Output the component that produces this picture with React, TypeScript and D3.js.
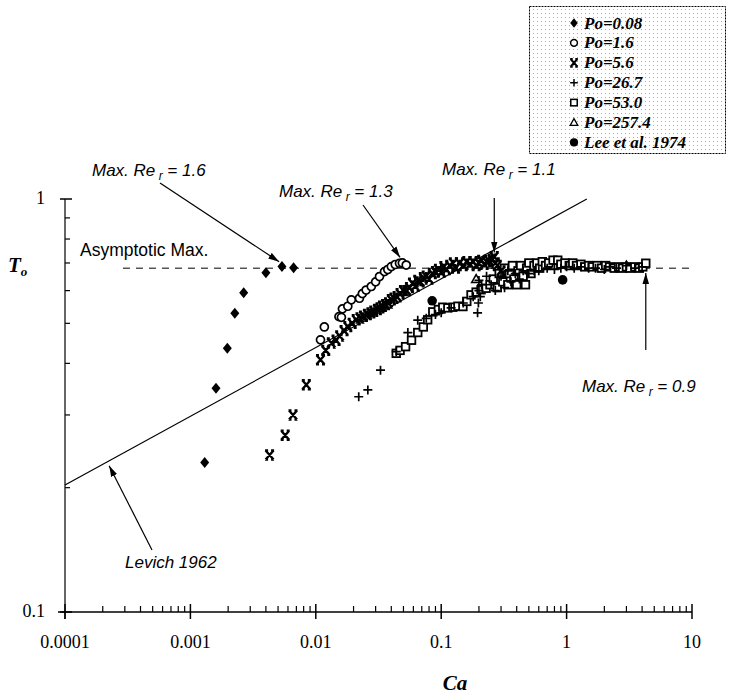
import React, { useEffect, useRef } from "react";
import * as d3 from "d3";

// axis ticks
const xTicks = [0.0001, 0.001, 0.01, 0.1, 1, 10];
const xTickLabels = ["0.0001", "0.001", "0.01", "0.1", "1", "10"];
const yTicks = [0.1, 1];
const yTickLabels = ["0.1", "1"];

// Po = 0.08
const caPo008 = [0.0013, 0.0016, 0.00197, 0.00226, 0.00266, 0.004, 0.00537, 0.00665];
const tPo008 = [0.23, 0.348, 0.435, 0.529, 0.593, 0.663, 0.686, 0.682];

// Po = 1.6
const caPo16 = [0.0109, 0.0117, 0.0153, 0.016, 0.0163, 0.018, 0.0192, 0.0223, 0.0235, 0.0252, 0.0277, 0.03, 0.0322, 0.0353, 0.0375, 0.04, 0.043, 0.0465, 0.049, 0.0526];
const tPo16 = [0.456, 0.49, 0.519, 0.517, 0.542, 0.55, 0.57, 0.575, 0.59, 0.602, 0.614, 0.63, 0.649, 0.667, 0.675, 0.686, 0.694, 0.699, 0.7, 0.692];

// Po = 5.6
const caPo56 = [0.00428, 0.0057, 0.00658, 0.0084, 0.0109, 0.012, 0.0133, 0.0145, 0.0155, 0.0168, 0.018, 0.0195, 0.021, 0.0225, 0.024, 0.0258, 0.0275, 0.029, 0.031, 0.0325, 0.034, 0.036, 0.038, 0.04, 0.042, 0.0445, 0.047, 0.05, 0.053, 0.0558, 0.059, 0.062, 0.065, 0.068, 0.072, 0.0759, 0.08, 0.085, 0.09, 0.095, 0.1, 0.105, 0.11, 0.117, 0.125, 0.13, 0.14, 0.15, 0.16, 0.17, 0.18, 0.19, 0.2, 0.21, 0.22, 0.23, 0.24, 0.255, 0.265, 0.27, 0.28, 0.3];
const tPo56 = [0.24, 0.268, 0.3, 0.355, 0.408, 0.43, 0.448, 0.455, 0.466, 0.48, 0.491, 0.5, 0.51, 0.515, 0.52, 0.525, 0.53, 0.535, 0.54, 0.545, 0.55, 0.555, 0.56, 0.57, 0.575, 0.58, 0.59, 0.6, 0.6, 0.61, 0.625, 0.615, 0.635, 0.63, 0.645, 0.65, 0.64, 0.66, 0.667, 0.675, 0.665, 0.686, 0.675, 0.69, 0.7, 0.68, 0.7, 0.69, 0.705, 0.695, 0.705, 0.69, 0.7, 0.71, 0.695, 0.705, 0.71, 0.715, 0.725, 0.7, 0.69, 0.67];

// Po = 26.7
const caPo267 = [0.022, 0.026, 0.0328, 0.0438, 0.0542, 0.065, 0.076, 0.09, 0.1, 0.12, 0.15, 0.18, 0.195, 0.198, 0.2, 0.2, 0.205, 0.21, 0.23, 0.25, 0.27, 0.3, 0.32, 0.34, 0.36, 0.39, 0.42, 0.45, 0.5, 0.55, 0.6, 0.7, 0.8, 0.9, 1.0, 1.15, 1.3, 1.5, 1.7, 2.0, 2.2, 2.5, 3.0, 3.5, 4.0];
const tPo267 = [0.332, 0.345, 0.385, 0.427, 0.475, 0.509, 0.514, 0.525, 0.53, 0.545, 0.56, 0.58, 0.53, 0.56, 0.6, 0.635, 0.58, 0.62, 0.65, 0.62, 0.6, 0.65, 0.61, 0.67, 0.63, 0.66, 0.64, 0.67, 0.66, 0.67, 0.67, 0.68, 0.675, 0.68, 0.685, 0.68, 0.685, 0.68, 0.68, 0.675, 0.685, 0.68, 0.69, 0.68, 0.685];

// Po = 53.0
const caPo530 = [0.0438, 0.047, 0.052, 0.058, 0.065, 0.072, 0.078, 0.0857, 0.095, 0.103, 0.113, 0.124, 0.136, 0.149, 0.16, 0.173, 0.19, 0.208, 0.228, 0.245, 0.26, 0.28, 0.29, 0.31, 0.32, 0.34, 0.35, 0.37, 0.38, 0.4, 0.41, 0.43, 0.45, 0.47, 0.48, 0.5, 0.52, 0.55, 0.58, 0.61, 0.64, 0.68, 0.72, 0.78, 0.85, 0.9, 0.97, 1.05, 1.12, 1.2, 1.3, 1.4, 1.5, 1.6, 1.75, 1.9, 2.05, 2.2, 2.4, 2.6, 2.8, 3.0, 3.2, 3.5, 3.8, 4.05, 4.28];
const tPo530 = [0.423, 0.43, 0.439, 0.455, 0.475, 0.49, 0.51, 0.533, 0.54, 0.547, 0.545, 0.547, 0.55, 0.549, 0.565, 0.586, 0.595, 0.603, 0.608, 0.62, 0.64, 0.61, 0.66, 0.63, 0.68, 0.62, 0.66, 0.69, 0.64, 0.62, 0.67, 0.69, 0.65, 0.62, 0.68, 0.7, 0.66, 0.69, 0.7, 0.68, 0.705, 0.69, 0.7, 0.711, 0.711, 0.695, 0.7, 0.69, 0.7, 0.69, 0.695, 0.685, 0.69, 0.685, 0.69, 0.68, 0.69, 0.685, 0.68, 0.685, 0.68, 0.685, 0.68, 0.685, 0.68, 0.685, 0.699];

// Po = 257.4
const caPo2574 = [0.19, 0.3, 0.5, 0.8, 1.2, 2.0, 3.0];
const tPo2574 = [0.64, 0.66, 0.68, 0.69, 0.69, 0.685, 0.69];

// Lee et al. 1974
const caLee = [0.0847, 0.93];
const tLee = [0.567, 0.637];

// Levich 1962 line end points, and the asymptotic maximum
const levichCa = [0.0001, 1.45];
const levichT = [0.203, 1.0];
const asymCa = [0.00029, 10];
const asymT = 0.68;

const seriesNames = ["Po=0.08", "Po=1.6", "Po=5.6", "Po=26.7", "Po=53.0", "Po=257.4", "Lee et al. 1974"];

const App = () => {
  const ref = useRef(null);

  useEffect(() => {
    document.body.style.margin = "0";
    const svg = d3.select(ref.current);
    svg.selectAll("*").remove();

    const x = d3.scaleLog().domain([0.0001, 10]).range([65, 692]);
    const y = d3.scaleLog().domain([0.1, 1]).range([612, 199]);

    const defs = svg.append("defs");
    defs.append("marker")
      .attr("id", "arrow")
      .attr("viewBox", "0 0 10 6")
      .attr("refX", 10)
      .attr("refY", 3)
      .attr("markerUnits", "userSpaceOnUse")
      .attr("markerWidth", 11)
      .attr("markerHeight", 7)
      .attr("orient", "auto")
      .append("path")
      .attr("d", "M0,0L10,3L0,6Z")
      .attr("fill", "#000");
    const pat = defs.append("pattern")
      .attr("id", "dots")
      .attr("width", 4)
      .attr("height", 4)
      .attr("patternUnits", "userSpaceOnUse");
    pat.append("rect").attr("width", 4).attr("height", 4).attr("fill", "#fff");
    pat.append("rect").attr("x", 1).attr("y", 1).attr("width", 1).attr("height", 1).attr("fill", "#aaa");

    const g = svg.append("g");

    // axes
    g.append("line").attr("x1", 58).attr("x2", x(10)).attr("y1", y(0.1)).attr("y2", y(0.1))
      .attr("stroke", "#000").attr("stroke-width", 1.5);
    g.append("line").attr("x1", x(0.0001)).attr("x2", x(0.0001)).attr("y1", y(1)).attr("y2", y(0.1) + 7)
      .attr("stroke", "#333").attr("stroke-width", 1.5);

    const xMinor = x.ticks().filter((v) => !xTicks.some((t) => Math.abs(t - v) / t < 1e-6));
    g.selectAll("line.xminor").data(xMinor).join("line")
      .attr("x1", (d) => x(d)).attr("x2", (d) => x(d))
      .attr("y1", y(0.1)).attr("y2", y(0.1) - 6)
      .attr("stroke", "#000").attr("stroke-width", 1.2);
    g.selectAll("line.xmajor").data(xTicks).join("line")
      .attr("x1", (d) => x(d)).attr("x2", (d) => x(d))
      .attr("y1", y(0.1) - 8).attr("y2", y(0.1) + 7)
      .attr("stroke", "#000").attr("stroke-width", 1.5);
    g.selectAll("text.xlab").data(xTicks).join("text")
      .attr("x", (d) => x(d)).attr("y", 648)
      .attr("text-anchor", "middle")
      .attr("font-family", "Liberation Serif, serif")
      .attr("font-size", 18)
      .text((d, i) => xTickLabels[i]);

    const yMinor = y.ticks().filter((v) => !yTicks.some((t) => Math.abs(t - v) / t < 1e-6));
    g.selectAll("line.yminor").data(yMinor).join("line")
      .attr("x1", x(0.0001)).attr("x2", x(0.0001) + 5)
      .attr("y1", (d) => y(d)).attr("y2", (d) => y(d))
      .attr("stroke", "#000").attr("stroke-width", 1.2);
    g.selectAll("line.ymajor").data(yTicks).join("line")
      .attr("x1", x(0.0001) - 5).attr("x2", x(0.0001) + 7)
      .attr("y1", (d) => y(d)).attr("y2", (d) => y(d))
      .attr("stroke", "#000").attr("stroke-width", 1.5);
    g.selectAll("text.ylab").data(yTicks).join("text")
      .attr("x", 45).attr("y", (d) => y(d) + 5)
      .attr("text-anchor", "end")
      .attr("font-family", "Liberation Serif, serif")
      .attr("font-size", 18)
      .text((d, i) => yTickLabels[i]);

    // axis titles
    g.append("text").attr("x", 455).attr("y", 690).attr("text-anchor", "middle")
      .attr("font-family", "Liberation Serif, serif").attr("font-size", 21)
      .attr("font-style", "italic").attr("font-weight", "bold").text("Ca");
    const yt = g.append("text").attr("x", 8).attr("y", 272)
      .attr("font-family", "Liberation Serif, serif").attr("font-size", 21)
      .attr("font-style", "italic").attr("font-weight", "bold");
    yt.append("tspan").text("T");
    yt.append("tspan").attr("font-size", 13).attr("dy", 4).text("o");

    // Levich line and asymptote
    const line = d3.line().x((d) => x(d[0])).y((d) => y(d[1]));
    g.append("path")
      .attr("d", line(levichCa.map((c, i) => [c, levichT[i]])))
      .attr("fill", "none").attr("stroke", "#000").attr("stroke-width", 1.2);
    g.append("line")
      .attr("x1", x(asymCa[0])).attr("x2", x(asymCa[1]))
      .attr("y1", y(asymT)).attr("y2", y(asymT))
      .attr("stroke", "#000").attr("stroke-width", 1).attr("stroke-dasharray", "7,6");

    // markers
    const sym = {
      diamond: (s) => s.append("path").attr("d", "M0,-5.5L4.5,0L0,5.5L-4.5,0Z").attr("fill", "#000"),
      circle: (s) => s.append("circle").attr("r", 4).attr("fill", "#fff").attr("stroke", "#000").attr("stroke-width", 1.7),
      cross: (s) => s.append("path").attr("d", "M-4,-4.5L4,4.5M4,-4.5L-4,4.5M-4.5,-4.5H-1.5M1.5,-4.5H4.5M-4.5,4.5H-1.5M1.5,4.5H4.5")
        .attr("fill", "none").attr("stroke", "#000").attr("stroke-width", 2.4),
      plus: (s) => s.append("path").attr("d", "M-4.5,0H4.5M0,-4.5V4.5").attr("fill", "none").attr("stroke", "#000").attr("stroke-width", 1.7),
      square: (s) => s.append("rect").attr("x", -3.8).attr("y", -3.8).attr("width", 7.6).attr("height", 7.6)
        .attr("fill", "#fff").attr("stroke", "#000").attr("stroke-width", 1.8),
      triangle: (s) => s.append("path").attr("d", "M0,-4.5L4.5,3.5L-4.5,3.5Z").attr("fill", "#fff").attr("stroke", "#000").attr("stroke-width", 1.5),
      dot: (s) => s.append("circle").attr("r", 4.8).attr("fill", "#000"),
    };
    const series = [
      { ca: caPo008, t: tPo008, m: "diamond" },
      { ca: caPo16, t: tPo16, m: "circle" },
      { ca: caPo56, t: tPo56, m: "cross" },
      { ca: caPo267, t: tPo267, m: "plus" },
      { ca: caPo530, t: tPo530, m: "square" },
      { ca: caPo2574, t: tPo2574, m: "triangle" },
      { ca: caLee, t: tLee, m: "dot" },
    ];
    const drawOrder = [0, 5, 4, 3, 1, 2, 6];
    drawOrder.forEach((si) => {
      const s = series[si];
      s.ca.forEach((c, i) => {
        const pt = g.append("g").attr("transform", `translate(${x(c)},${y(s.t[i])})`);
        sym[s.m](pt);
      });
    });

    // annotations
    const annFont = "Liberation Sans, Arial, sans-serif";
    const label = (tx, ty, val) => {
      const t = g.append("text").attr("x", tx).attr("y", ty)
        .attr("font-family", annFont).attr("font-size", 17).attr("font-style", "italic");
      t.append("tspan").text("Max. Re");
      t.append("tspan").attr("font-size", 12).attr("dy", 4).text(" r");
      t.append("tspan").attr("dy", -4).text(" = " + val);
    };
    const arrow = (x1, y1, x2, y2) => {
      g.append("line").attr("x1", x1).attr("y1", y1).attr("x2", x2).attr("y2", y2)
        .attr("stroke", "#000").attr("stroke-width", 1.2).attr("marker-end", "url(#arrow)");
    };

    label(92, 176, "1.6");
    arrow(160, 183, x(0.0051), y(0.705));
    label(279, 197, "1.3");
    arrow(363, 205, x(0.047), y(0.722));
    label(442, 175, "1.1");
    arrow(x(0.265), 198, x(0.265), y(0.742));
    label(582, 392, "0.9");
    arrow(x(4.28), 350, x(4.28), y(0.662));

    g.append("text").attr("x", 80).attr("y", 256)
      .attr("font-family", annFont).attr("font-size", 17.5).text("Asymptotic Max.");

    g.append("text").attr("x", 125).attr("y", 568)
      .attr("font-family", annFont).attr("font-size", 17).attr("font-style", "italic").text("Levich 1962");
    arrow(152, 550, x(0.000225), y(0.226));

    // legend
    const lg = g.append("g");
    lg.append("rect").attr("x", 529.5).attr("y", 6.5).attr("width", 196).attr("height", 147)
      .attr("fill", "url(#dots)").attr("stroke", "#000").attr("stroke-width", 1).attr("stroke-dasharray", "2,1");
    seriesNames.forEach((name, i) => {
      const cy = 23 + i * 19.9;
      const pt = lg.append("g").attr("transform", `translate(574,${cy}) scale(0.85)`);
      sym[series[i].m](pt);
      lg.append("text").attr("x", 584).attr("y", cy + 5.5)
        .attr("font-family", "Liberation Serif, serif").attr("font-size", 17)
        .attr("font-style", "italic").attr("font-weight", "bold").text(name);
    });
  }, []);

  return <svg ref={ref} width={729} height={700} style={{ display: "block" }} />;
};

export default App;
